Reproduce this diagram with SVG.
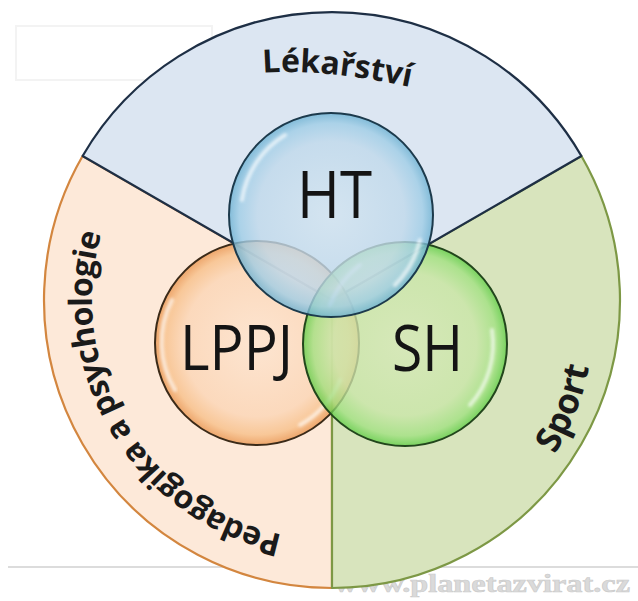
<svg xmlns="http://www.w3.org/2000/svg" width="638" height="601" viewBox="0 0 638 601">
  <style>
    .lbl { font-family: "Open Sans", "Noto Sans", "Liberation Sans", sans-serif; font-weight: 700; fill: #1a1a1a; }
    .big { font-family: "Open Sans", "Noto Sans", "Liberation Sans", sans-serif; font-weight: 400; fill: #141414; }
    .bubble { stroke-width: 2; }
    .hl { fill: none; stroke: #ffffff; stroke-width: 4; stroke-linecap: round; opacity: 0.65; filter: url(#blur); }
  </style>
  <defs>
    <filter id="blur" x="-20%" y="-20%" width="140%" height="140%">
      <feGaussianBlur stdDeviation="1.4"/>
    </filter>
    <radialGradient id="gHT" cx="0.5" cy="0.5" r="0.5">
      <stop offset="0" stop-color="#d2e4f0"/>
      <stop offset="0.72" stop-color="#c0d9eb"/>
      <stop offset="0.9" stop-color="#9fcde6"/>
      <stop offset="1" stop-color="#6cb1d2"/>
    </radialGradient>
    <radialGradient id="gLP" cx="0.5" cy="0.5" r="0.5">
      <stop offset="0" stop-color="#fde4cf"/>
      <stop offset="0.72" stop-color="#fbd5b5"/>
      <stop offset="0.9" stop-color="#f7bf88"/>
      <stop offset="1" stop-color="#e99550"/>
    </radialGradient>
    <radialGradient id="gSH" cx="0.5" cy="0.5" r="0.5">
      <stop offset="0" stop-color="#d6e9b8"/>
      <stop offset="0.7" stop-color="#c9e6a8"/>
      <stop offset="0.9" stop-color="#a0e180"/>
      <stop offset="1" stop-color="#5ecd45"/>
    </radialGradient>
    <path id="pLek" d="M263,73 Q325,68 420,89"/>
    <path id="pPed" d="M282.1,534.7 A240,240 0 0 1 101.3,233.8"/>
    <path id="pSport" d="M550,462 A264,264 0 0 0 590.7,358"/>
  </defs>

  <rect width="638" height="601" fill="#ffffff"/>

  <!-- watermarks -->
  <g id="watermarks">
    <rect x="16" y="26" width="196" height="54" fill="none" stroke="#f3f3f3" stroke-width="2"/>
    <line x1="8" y1="567" x2="638" y2="567" stroke="#dcdcdc" stroke-width="2"/>
    <text x="334" y="592" font-family="Liberation Serif, serif" font-weight="700" font-size="25" fill="#dadada" stroke="#cacaca" stroke-width="0.6" textLength="296" lengthAdjust="spacingAndGlyphs">www.planetazvirat.cz</text>
  </g>

  <!-- outer segments -->
  <g id="seg-pedagogika">
    <path d="M332,300 L332,588 A288,288 0 0 1 82.6,156 Z" fill="#fde9d9" stroke="#d3863f" stroke-width="2.2" stroke-linejoin="round"/>
  </g>
  <g id="seg-sport">
    <path d="M332,300 L581.4,156 A288,288 0 0 1 332,588 Z" fill="#d8e4bd" stroke="#7d9845" stroke-width="2.2" stroke-linejoin="round"/>
  </g>
  <g id="seg-lekarstvi">
    <path d="M332,300 L82.6,156 A288,288 0 0 1 581.4,156 Z" fill="#dce6f2" stroke="#1e2f45" stroke-width="2.2" stroke-linejoin="round"/>
  </g>

  <!-- segment labels -->
  <g id="label-lekarstvi">
    <text class="lbl" font-size="32"><textPath href="#pLek">Lékařství</textPath></text>
  </g>
  <g id="label-pedagogika">
    <text class="lbl" font-size="32"><textPath href="#pPed" startOffset="50%" text-anchor="middle" textLength="394" lengthAdjust="spacing">Pedagogika a psychologie</textPath></text>
  </g>
  <g id="label-sport">
    <text class="lbl" font-size="35"><textPath href="#pSport" startOffset="50%" text-anchor="middle">Sport</textPath></text>
  </g>

  <!-- inner bubbles -->
  <g id="LPPJ">
    <circle class="bubble" cx="257" cy="343" r="102" fill="url(#gLP)" fill-opacity="0.8" stroke="#3b2a18"/>
    <path class="hl" d="M172,300 A92,92 0 0 0 175,390"/>
    <path class="hl" d="M340,380 A92,92 0 0 1 300,425" opacity="0.45"/>
    <text class="big" x="236.5" y="370" font-size="63" text-anchor="middle" textLength="113" lengthAdjust="spacingAndGlyphs">LPPJ</text>
  </g>
  <g id="SH">
    <circle class="bubble" cx="405" cy="344" r="102" fill="url(#gSH)" fill-opacity="0.78" stroke="#22461c"/>
    <path class="hl" d="M492,330 A92,92 0 0 1 470,405"/>
    <path class="hl" d="M330,305 A92,92 0 0 1 360,265" opacity="0.45"/>
    <text class="big" x="427.5" y="371" font-size="64" text-anchor="middle" textLength="71" lengthAdjust="spacingAndGlyphs">SH</text>
  </g>
  <g id="HT">
    <circle class="bubble" cx="331" cy="215" r="102" fill="url(#gHT)" fill-opacity="0.8" stroke="#1c3a4c"/>
    <path class="hl" d="M242,200 A92,92 0 0 1 285,135"/>
    <path class="hl" d="M420,240 A92,92 0 0 1 395,285" opacity="0.5"/>
    <text class="big" x="334.5" y="218" font-size="66" text-anchor="middle" textLength="75" lengthAdjust="spacingAndGlyphs">HT</text>
  </g>
</svg>
